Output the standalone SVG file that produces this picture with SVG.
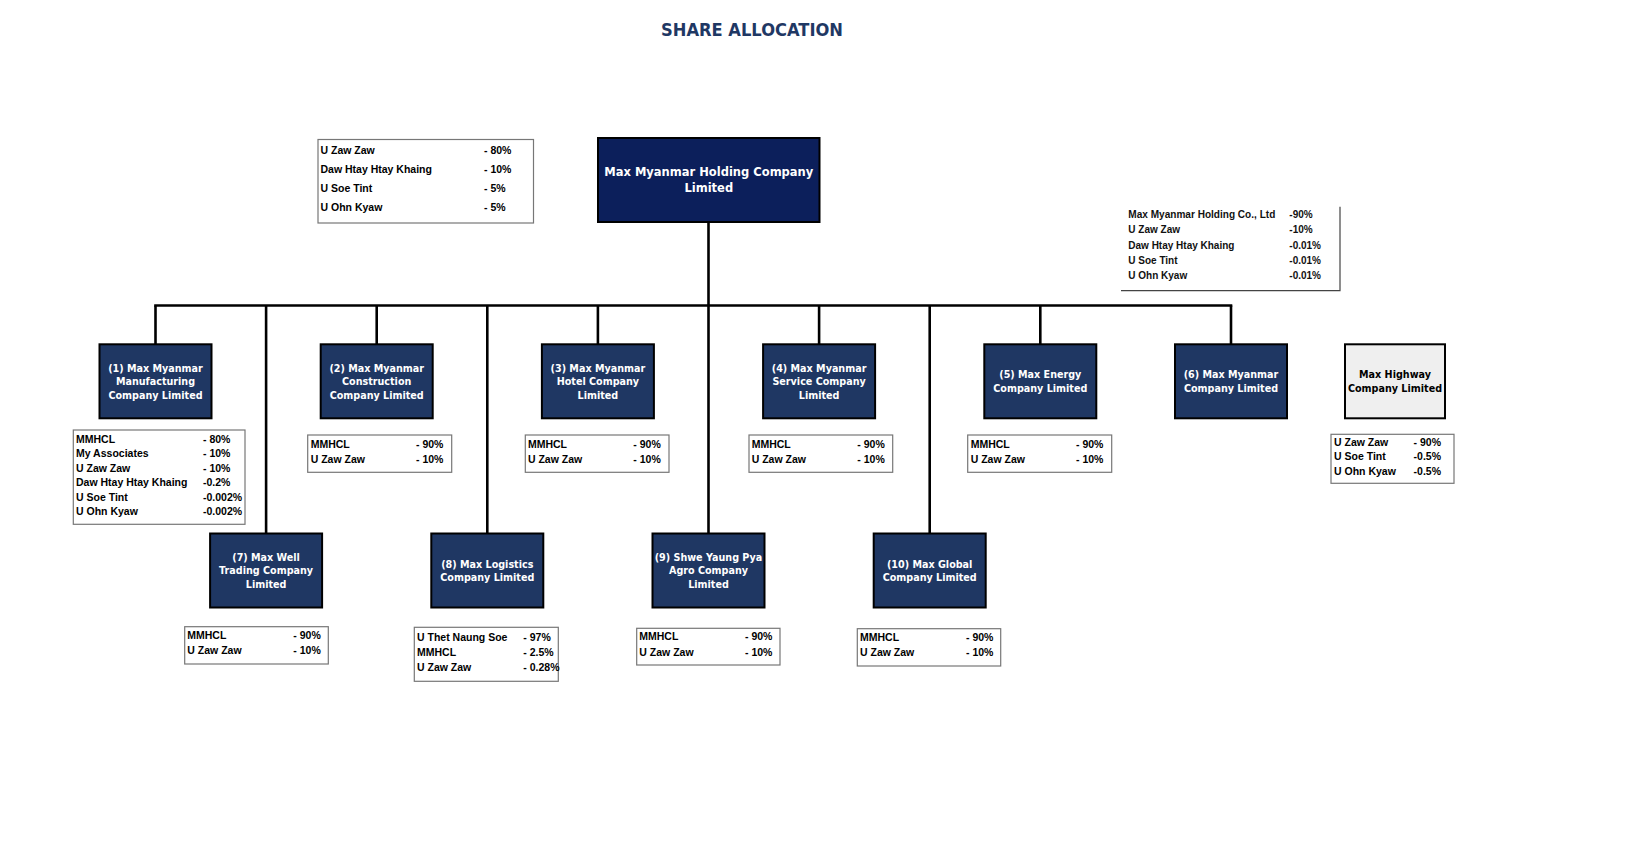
<svg xmlns="http://www.w3.org/2000/svg" width="1630" height="860" viewBox="0 0 1630 860">
<style>
.bg{fill:#ffffff}
.title{font-family:"DejaVu Sans",Verdana,sans-serif;font-weight:bold;font-size:17px;fill:#1f3864}
.conn{stroke:#000;stroke-width:2.6;fill:none}
.main{fill:#0c1f5b;stroke:#000;stroke-width:2}
.box{fill:#1f3763;stroke:#000;stroke-width:2}
.hw{fill:#efefef;stroke:#000;stroke-width:2}
.bt{font-family:"DejaVu Sans",Verdana,sans-serif;font-weight:bold;font-size:9.6px;fill:#fff;text-anchor:middle}
.mt{font-family:"DejaVu Sans",Verdana,sans-serif;font-weight:bold;font-size:11.5px;fill:#fff;text-anchor:middle}
.bk{fill:#000}
.tb{fill:#fff;stroke:#777;stroke-width:1.2}
.tt{font-family:"Liberation Sans",Arial,sans-serif;font-weight:bold;font-size:10.5px;fill:#000}
.tr{font-family:"Liberation Sans",Arial,sans-serif;font-weight:bold;font-size:10px;fill:#111}
.end{text-anchor:end}
.edge{stroke:#444;stroke-width:1.2;fill:none}
</style>
<rect class="bg" x="0" y="0" width="1630" height="860"/>
<text class="title" x="752" y="36" text-anchor="middle" textLength="182" lengthAdjust="spacingAndGlyphs">SHARE ALLOCATION</text>

<g id="connectors">
<line class="conn" x1="708.5" y1="222" x2="708.5" y2="533.5"/>
<line class="conn" x1="154.2" y1="305.5" x2="1232.3" y2="305.5"/>
<line class="conn" x1="155.5" y1="305.5" x2="155.5" y2="344"/>
<line class="conn" x1="376.7" y1="305.5" x2="376.7" y2="344"/>
<line class="conn" x1="597.9" y1="305.5" x2="597.9" y2="344"/>
<line class="conn" x1="819.1" y1="305.5" x2="819.1" y2="344"/>
<line class="conn" x1="1040.3" y1="305.5" x2="1040.3" y2="344"/>
<line class="conn" x1="1231" y1="305.5" x2="1231" y2="344"/>
<line class="conn" x1="266.1" y1="305.5" x2="266.1" y2="533.5"/>
<line class="conn" x1="487.3" y1="305.5" x2="487.3" y2="533.5"/>
<line class="conn" x1="929.7" y1="305.5" x2="929.7" y2="533.5"/>
</g>

<g id="holding">
<rect class="main" x="598" y="138" width="221.5" height="84"/>
<text class="mt" x="708.8" y="175.5">Max Myanmar Holding Company</text>
<text class="mt" x="708.8" y="191.8">Limited</text>
</g>

<g id="holding-owners">
<rect class="tb" x="318" y="139.5" width="215.5" height="83.5"/>
<text class="tt" x="320.5" y="154.3">U Zaw Zaw</text><text class="tt" x="484" y="154.3">- 80%</text>
<text class="tt" x="320.5" y="173.3">Daw Htay Htay Khaing</text><text class="tt" x="484" y="173.3">- 10%</text>
<text class="tt" x="320.5" y="192.3">U Soe Tint</text><text class="tt" x="484" y="192.3">- 5%</text>
<text class="tt" x="320.5" y="211.3">U Ohn Kyaw</text><text class="tt" x="484" y="211.3">- 5%</text>
</g>

<g id="mmcl-owners">
<path class="edge" d="M1340 206.7 V290.7 H1121"/>
<text class="tr" x="1128.3" y="217.6" textLength="147" lengthAdjust="spacingAndGlyphs">Max Myanmar Holding Co., Ltd</text><text class="tr" x="1289.3" y="217.6">-90%</text>
<text class="tr" x="1128.3" y="233.3">U Zaw Zaw</text><text class="tr" x="1289.3" y="233.3">-10%</text>
<text class="tr" x="1128.3" y="248.6">Daw Htay Htay Khaing</text><text class="tr" x="1289.3" y="248.6">-0.01%</text>
<text class="tr" x="1128.3" y="263.6">U Soe Tint</text><text class="tr" x="1289.3" y="263.6">-0.01%</text>
<text class="tr" x="1128.3" y="279.1">U Ohn Kyaw</text><text class="tr" x="1289.3" y="279.1">-0.01%</text>
</g>

<g id="n1">
<rect class="box" x="99.5" y="344.3" width="112" height="74"/>
<text class="bt" x="155.5" y="371.8">(1) Max Myanmar</text>
<text class="bt" x="155.5" y="385.2">Manufacturing</text>
<text class="bt" x="155.5" y="398.5">Company Limited</text>
<rect class="tb" x="73.3" y="430" width="171.7" height="94.3"/>
<text class="tt" x="76" y="442.7">MMHCL</text><text class="tt" x="203" y="442.7">- 80%</text>
<text class="tt" x="76" y="457.2">My Associates</text><text class="tt" x="203" y="457.2">- 10%</text>
<text class="tt" x="76" y="471.7">U Zaw Zaw</text><text class="tt" x="203" y="471.7">- 10%</text>
<text class="tt" x="76" y="486.2">Daw Htay Htay Khaing</text><text class="tt" x="203" y="486.2">-0.2%</text>
<text class="tt" x="76" y="500.7">U Soe Tint</text><text class="tt" x="203" y="500.7">-0.002%</text>
<text class="tt" x="76" y="515.2">U Ohn Kyaw</text><text class="tt" x="203" y="515.2">-0.002%</text>
</g>

<g id="n2">
<rect class="box" x="320.7" y="344.3" width="112" height="74"/>
<text class="bt" x="376.7" y="371.8">(2) Max Myanmar</text>
<text class="bt" x="376.7" y="385.2">Construction</text>
<text class="bt" x="376.7" y="398.5">Company Limited</text>
<rect class="tb" x="307.7" y="435" width="144" height="37.3"/>
<text class="tt" x="310.7" y="447.7">MMHCL</text><text class="tt" x="416" y="447.7">- 90%</text>
<text class="tt" x="310.7" y="463">U Zaw Zaw</text><text class="tt" x="416" y="463">- 10%</text>
</g>

<g id="n3">
<rect class="box" x="541.9" y="344.3" width="112" height="74"/>
<text class="bt" x="597.9" y="371.8">(3) Max Myanmar</text>
<text class="bt" x="597.9" y="385.2">Hotel Company</text>
<text class="bt" x="597.9" y="398.5">Limited</text>
<rect class="tb" x="525.3" y="435" width="143.7" height="37.3"/>
<text class="tt" x="527.9" y="447.7">MMHCL</text><text class="tt" x="633.3" y="447.7">- 90%</text>
<text class="tt" x="527.9" y="463">U Zaw Zaw</text><text class="tt" x="633.3" y="463">- 10%</text>
</g>

<g id="n4">
<rect class="box" x="763.1" y="344.3" width="112" height="74"/>
<text class="bt" x="819.1" y="371.8">(4) Max Myanmar</text>
<text class="bt" x="819.1" y="385.2">Service Company</text>
<text class="bt" x="819.1" y="398.5">Limited</text>
<rect class="tb" x="749" y="435" width="143.7" height="37.3"/>
<text class="tt" x="751.7" y="447.7">MMHCL</text><text class="tt" x="857.3" y="447.7">- 90%</text>
<text class="tt" x="751.7" y="463">U Zaw Zaw</text><text class="tt" x="857.3" y="463">- 10%</text>
</g>

<g id="n5">
<rect class="box" x="984.3" y="344.3" width="112" height="74"/>
<text class="bt" x="1040.3" y="378.1">(5) Max Energy</text>
<text class="bt" x="1040.3" y="391.5">Company Limited</text>
<rect class="tb" x="967.7" y="435" width="144" height="37.3"/>
<text class="tt" x="970.7" y="447.7">MMHCL</text><text class="tt" x="1076" y="447.7">- 90%</text>
<text class="tt" x="970.7" y="463">U Zaw Zaw</text><text class="tt" x="1076" y="463">- 10%</text>
</g>

<g id="n6">
<rect class="box" x="1175" y="344.3" width="112" height="74"/>
<text class="bt" x="1231" y="378.1">(6) Max Myanmar</text>
<text class="bt" x="1231" y="391.5">Company Limited</text>
</g>

<g id="highway">
<rect class="hw" x="1345" y="344.3" width="100" height="74"/>
<text class="bt bk" x="1395" y="378.1">Max Highway</text>
<text class="bt bk" x="1395" y="391.5">Company Limited</text>
<rect class="tb" x="1331" y="434.3" width="123" height="49"/>
<text class="tt" x="1334" y="446">U Zaw Zaw</text><text class="tt end" x="1441" y="446">- 90%</text>
<text class="tt" x="1334" y="460.4">U Soe Tint</text><text class="tt end" x="1441" y="460.4">-0.5%</text>
<text class="tt" x="1334" y="475">U Ohn Kyaw</text><text class="tt end" x="1441" y="475">-0.5%</text>
</g>

<g id="n7">
<rect class="box" x="210.1" y="533.5" width="112" height="74"/>
<text class="bt" x="266.1" y="560.8">(7) Max Well</text>
<text class="bt" x="266.1" y="574.2">Trading Company</text>
<text class="bt" x="266.1" y="587.5">Limited</text>
<rect class="tb" x="184.7" y="626.7" width="143.6" height="37.3"/>
<text class="tt" x="187.3" y="638.7">MMHCL</text><text class="tt" x="293.3" y="638.7">- 90%</text>
<text class="tt" x="187.3" y="653.7">U Zaw Zaw</text><text class="tt" x="293.3" y="653.7">- 10%</text>
</g>

<g id="n8">
<rect class="box" x="431.3" y="533.5" width="112" height="74"/>
<text class="bt" x="487.3" y="567.5">(8) Max Logistics</text>
<text class="bt" x="487.3" y="580.9">Company Limited</text>
<rect class="tb" x="414.3" y="627.3" width="144" height="54"/>
<text class="tt" x="417" y="641">U Thet Naung Soe</text><text class="tt" x="523.3" y="641">- 97%</text>
<text class="tt" x="417" y="656.4">MMHCL</text><text class="tt" x="523.3" y="656.4">- 2.5%</text>
<text class="tt" x="417" y="671.4">U Zaw Zaw</text><text class="tt" x="523.3" y="671.4">- 0.28%</text>
</g>

<g id="n9">
<rect class="box" x="652.5" y="533.5" width="112" height="74"/>
<text class="bt" x="708.5" y="560.8">(9) Shwe Yaung Pya</text>
<text class="bt" x="708.5" y="574.2">Agro Company</text>
<text class="bt" x="708.5" y="587.5">Limited</text>
<rect class="tb" x="636.7" y="628.3" width="143.3" height="36.7"/>
<text class="tt" x="639.3" y="640.4">MMHCL</text><text class="tt" x="745" y="640.4">- 90%</text>
<text class="tt" x="639.3" y="655.7">U Zaw Zaw</text><text class="tt" x="745" y="655.7">- 10%</text>
</g>

<g id="n10">
<rect class="box" x="873.7" y="533.5" width="112" height="74"/>
<text class="bt" x="929.7" y="567.5">(10) Max Global</text>
<text class="bt" x="929.7" y="580.9">Company Limited</text>
<rect class="tb" x="857.3" y="628.7" width="143.4" height="37.3"/>
<text class="tt" x="860" y="640.7">MMHCL</text><text class="tt" x="966" y="640.7">- 90%</text>
<text class="tt" x="860" y="656.4">U Zaw Zaw</text><text class="tt" x="966" y="656.4">- 10%</text>
</g>
</svg>
